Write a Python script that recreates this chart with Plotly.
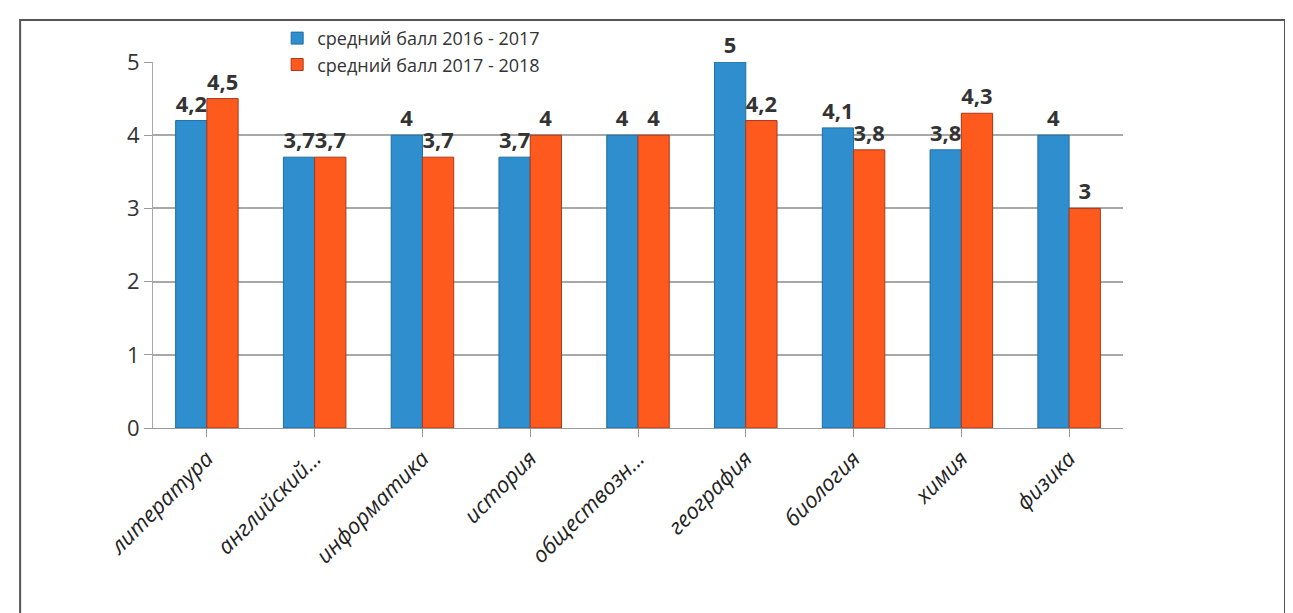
import plotly.graph_objects as go

categories = ["литература", "английский...", "информатика", "история", "обществозн...",
              "география", "биология", "химия", "физика"]
series_2016 = [4.2, 3.7, 4, 3.7, 4, 5, 4.1, 3.8, 4]
series_2017 = [4.5, 3.7, 3.7, 4, 4, 4.2, 3.8, 4.3, 3]
name_2016 = "средний балл 2016 - 2017"
name_2017 = "средний балл 2017 - 2018"
y_ticks = [0, 1, 2, 3, 4, 5]

def fmt(v):
    return (("%g" % v).replace(".", ","))

fig = go.Figure()
fig.add_trace(go.Bar(
    x=categories, y=series_2016, name=name_2016,
    marker=dict(color="#2E8ECE", line=dict(color="#1F6FA3", width=1)),
    text=[fmt(v) for v in series_2016], textposition="outside",
    textfont=dict(family="Open Sans", size=22, color="#333333", weight="bold"),
    cliponaxis=False,
))
fig.add_trace(go.Bar(
    x=categories, y=series_2017, name=name_2017,
    marker=dict(color="#FF5A1E", line=dict(color="#A8391A", width=1)),
    text=[fmt(v) for v in series_2017], textposition="outside",
    textfont=dict(family="Open Sans", size=22, color="#333333", weight="bold"),
    cliponaxis=False,
))

fig.update_layout(
    width=1293, height=613,
    margin=dict(l=145, r=178, t=54, b=193),
    paper_bgcolor="white", plot_bgcolor="white",
    barmode="group", bargap=0.42, bargroupgap=0.0,
    font=dict(family="Open Sans", color="#333333"),
    showlegend=True,
    legend=dict(x=0.128, y=1.115, xanchor="left", yanchor="top",
                font=dict(size=18, color="#333333"),
                bgcolor="rgba(0,0,0,0)", tracegroupgap=8,
                itemwidth=30),
    xaxis=dict(
        tickangle=-45,
        tickfont=dict(family="Open Sans", size=22, color="#222222", style="italic"),
        showline=True, linecolor="#999999", linewidth=1,
        ticks="outside", ticklen=8, tickcolor="#999999",
        showgrid=False,
    ),
    yaxis=dict(
        range=[0, 5], tickvals=y_ticks,
        tickfont=dict(family="Open Sans", size=22, color="#333333"),
        showgrid=True, gridcolor="#A8A8A8", gridwidth=1.5,
        showline=True, linecolor="#A8A8A8",
        ticks="outside", ticklen=8, tickcolor="#999999",
        zeroline=False,
    ),
    shapes=[dict(type="rect", xref="paper", yref="paper",
                 x0=-0.137, x1=1.167, y0=-0.52, y1=1.115,
                 line=dict(color="#555555", width=2), fillcolor="rgba(0,0,0,0)",
                 layer="below")],
)

fig.write_html("out.html")
